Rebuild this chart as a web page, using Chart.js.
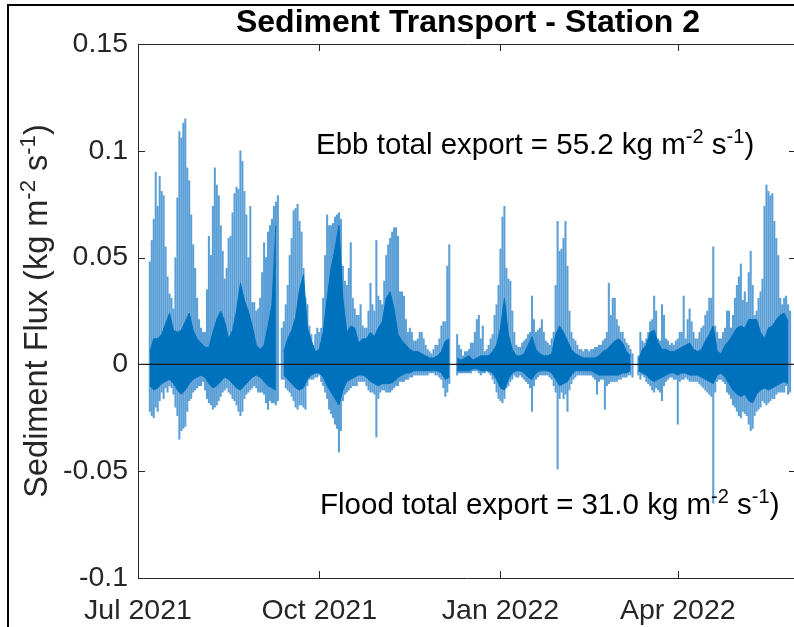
<!DOCTYPE html>
<html>
<head>
<meta charset="utf-8">
<script src="https://cdn.jsdelivr.net/npm/chart.js@4.4.1/dist/chart.umd.min.js"></script>
<style>
  html, body { margin: 0; padding: 0; background: #fff; overflow: hidden; }
</style>
</head>
<body>
<canvas id="flux" width="800" height="627"></canvas>
<script>
'use strict';

// days counted from 1 Jul 2021; fluxes in 1e-3 kg m-2 s-1
const firstDay = 6;
const lastDay = 334;

// daily ebb (positive) and flood (negative) peaks, day 6 .. 331
const ebbPeak = [
  48, 58, 68, 90, 74, 88, 81, 79, 55, 41,
  33, 31, 26, 50, 78, 109, 106, 113, 115, 92,
  86, 70, 56, 45, 31, 21, 17, 15, 15, 35,
  60, 51, 74, 92, 84, 79, 65, 53, 40, 45,
  59, 60, 71, 80, 83, 82, 100, 95, 81, 70,
  50, 74, 29, 29, 25, 26, 31, 43, 57, 50,
  62, 65, 68, 74, 76, 79, null, 17, 20, 28,
  37, 51, 59, 72, 73, 75, 67, 62, 45, 31,
  28, 18, 14, 9, 14, 17, 15, 17, 31, 51,
  70, 65, 65, 66, 69, 70, 71, 68, 46, 39,
  37, 45, 57, 31, 26, 23, 23, 28, 18, 17,
  17, 25, 38, 28, 25, 58, 32, 30, 28, 39,
  51, 56, 59, 62, 64, 64, 60, 34, 34, 32,
  21, 15, 17, 15, 11, 11, 12, 15, 15, 12,
  9, 7, 6, 5, 7, 9, 9, 12, 18, 20,
  20, 46, 56, null, null, null, 14, 9, 7, 4,
  6, 6, 7, 10, 10, 15, 21, 23, 12, 18,
  6, 7, 9, 12, 14, 23, 28, 37, 54, 69,
  74, 45, 40, 39, 25, 15, 9, 8, 8, 10,
  11, 12, 14, 15, 32, 21, 15, 16, 17, 21,
  15, 11, 10, 9, 12, 15, 37, 67, 53, 54,
  59, 67, 46, 25, 15, 12, 11, 9, 7, 7,
  6, 7, 7, 6, 7, 7, 8, 8, 9, 9,
  11, 12, 15, 38, 23, 31, 31, 21, 18, 15,
  15, 12, 10, 9, 7, 5, null, null, 4, 15,
  11, 10, 12, 15, 20, 21, 32, 25, 12, 11,
  28, 23, 12, 11, 9, 10, 9, 11, 12, 15,
  15, 32, 12, 21, 26, 20, 15, 12, 12, 15,
  17, 18, 23, 25, 31, 31, 55, 18, 15, 12,
  12, 15, 17, 25, 25, 17, 23, 31, 37, 41,
  47, 30, 34, 29, 43, 53, 37, 23, 25, 31,
  34, 40, 74, 84, 81, 79, 80, 67, 59, 51,
  31, 28, 31, 32, 28, 25
];

const floodPeak = [
  -22, -24, -25, -20, -22, -17, -13, -16, -11, -13,
  -10, -11, -14, -20, -24, -35, -31, -30, -29, -22,
  -17, -16, -13, -12, -11, -10, -10, -8, -12, -16,
  -18, -19, -21, -20, -19, -17, -15, -13, -12, -11,
  -13, -14, -16, -17, -19, -22, -24, -22, -16, -14,
  -13, -12, -11, -10, -11, -13, -13, -13, -14, -18,
  -21, -17, -18, -18, -19, -17, null, -7, -7, -11,
  -12, -13, -15, -17, -20, -21, -19, -19, -20, -21,
  -10, -7, -7, -7, -6, -6, -5, -8, -10, -13,
  -16, -21, -23, -25, -28, -30, -41, -31, -17, -14,
  -13, -12, -11, -10, -10, -10, -8, -8, -8, -8,
  -10, -12, -13, -13, -14, -34, -16, -13, -12, -12,
  -13, -13, -13, -12, -11, -10, -10, -8, -8, -8,
  -7, -7, -6, -6, -5, -5, -5, -5, -5, -5,
  -5, -5, -4, -4, -4, -5, -5, -6, -7, -11,
  -15, -13, -9, null, null, null, -5, -4, -4, -4,
  -4, -4, -4, -4, -3, -3, -3, -4, -5, -4,
  -4, -3, -4, -5, -7, -9, -13, -16, -17, -18,
  -16, -11, -10, -8, -7, -5, -6, -6, -5, -6,
  -7, -8, -9, -11, -22, -10, -7, -6, -5, -5,
  -5, -5, -5, -6, -7, -10, -13, -49, -16, -13,
  -16, -14, -22, -12, -9, -7, -6, -5, -5, -5,
  -5, -5, -5, -5, -5, -6, -7, -14, -8, -7,
  -7, -21, -10, -9, -8, -8, -8, -8, -7, -7,
  -6, -6, -6, -5, -5, -6, null, null, -5, -7,
  -5, -6, -8, -9, -10, -12, -13, -11, -12, -13,
  -17, -10, -8, -7, -6, -6, -7, -7, -28, -8,
  -7, -7, -6, -7, -8, -8, -8, -8, -8, -9,
  -10, -11, -12, -13, -14, -15, -65, -13, -8, -7,
  -7, -8, -9, -13, -14, -16, -19, -20, -22, -24,
  -25, -22, -23, -24, -28, -31, -30, -24, -22, -21,
  -20, -17, -18, -19, -18, -17, -16, -16, -14, -13,
  -13, -13, -13, -10, -14, -13
];

// dense core of the record, every 2 days from day 6 to 330
const coreStep = 2;
const ebbCore = [
  6, 12, 12, 14, 19, 24, 16, 15, 16, 20,
  24, 16, 12, 10, 8, 8, 15, 21, 25, 20,
  12, 16, 25, 38, 30, 25, 18, 9, 7, 9,
  18, 28, 65, null, 6, 12, 16, 22, 35, 42,
  17, 11, 6, 7, 15, 31, 45, 54, 65, 31,
  15, 18, 17, 10, 12, 12, 15, 13, 17, 20,
  31, 34, 26, 14, 11, 9, 7, 6, 6, 5,
  4, 3, 3, 4, 6, 11, 12, null, 3, 2,
  3, 4, 2, 3, 4, 4, 4, 6, 9, 17,
  31, 14, 7, 4, 4, 5, 9, 13, 7, 5,
  4, 4, 5, 14, 18, 15, 11, 7, 5, 4,
  3, 3, 3, 3, 4, 6, 7, 9, 11, 12,
  10, 6, 4, null, 2, 7, 9, 15, 16, 10,
  7, 7, 6, 6, 7, 8, 9, 10, 7, 6,
  7, 11, 14, 18, 6, 5, 9, 11, 14, 17,
  18, 17, 21, 21, 21, 15, 12, 17, 18, 21,
  23, 24, 20
];

const floodCore = [
  -10, -12, -11, -9, -8, -7, -9, -12, -14, -12,
  -9, -7, -6, -5, -6, -9, -11, -10, -8, -6,
  -7, -9, -11, -12, -10, -8, -6, -5, -6, -8,
  -10, -11, -12, null, -5, -7, -9, -11, -12, -11,
  -7, -5, -4, -4, -6, -10, -13, -16, -19, -12,
  -8, -7, -6, -5, -5, -6, -8, -9, -10, -9,
  -9, -9, -8, -6, -5, -4, -4, -3, -3, -3,
  -3, -3, -3, -3, -4, -7, -6, null, -3, -3,
  -3, -3, -2, -2, -3, -3, -3, -4, -7, -11,
  -12, -7, -4, -3, -3, -4, -6, -7, -4, -3,
  -3, -3, -4, -7, -10, -9, -8, -5, -3, -3,
  -3, -3, -3, -4, -5, -5, -5, -5, -5, -5,
  -4, -4, -3, null, -3, -4, -5, -7, -8, -7,
  -6, -5, -4, -4, -5, -4, -4, -5, -5, -5,
  -6, -7, -8, -9, -5, -4, -6, -9, -12, -14,
  -15, -14, -17, -18, -14, -12, -11, -12, -11, -10,
  -9, -8, -9
];

const zeroLineDays = [0, lastDay];
const zeroLineValues = [0, 0];

const tickDays = [0, 92, 184, 274];
const tickLabels = ['Jul 2021', 'Oct 2021', 'Jan 2022', 'Apr 2022'];
const yTicks = [-0.1, -0.05, 0, 0.05, 0.1, 0.15];
const yTickLabels = ['-0.1', '-0.05', '0', '0.05', '0.1', '0.15'];

const titleText = 'Sediment Transport - Station 2';
const yLabelParts = [['Sediment Flux (kg m', false], ['-2', true], [' s', false], ['-1', true], [')', false]];
const ebbParts = [['Ebb total export = 55.2 kg m', false], ['-2', true], [' s', false], ['-1', true], [')', false]];
const floodParts = [['Flood total export = 31.0 kg m', false], ['-2', true], [' s', false], ['-1', true], [')', false]];

const fontFamily = '"Liberation Sans", Arial, Helvetica, sans-serif';
const lineColor = '#0072BD';
const spikeColor = '#5b9fd7';
const axisColor = '#262626';

Chart.defaults.font.family = fontFamily;

const peakBars = ebbPeak.map((v, i) => ({
  x: firstDay + i,
  y: v === null ? null : [floodPeak[i] / 1000, v / 1000],
}));
const coreTop = ebbCore.map((v, i) => ({ x: firstDay + coreStep * i, y: v === null ? null : v / 1000 }));
const coreBottom = floodCore.map((v, i) => ({ x: firstDay + coreStep * i, y: v === null ? null : v / 1000 }));
const zeroLine = zeroLineDays.map((d, i) => ({ x: d, y: zeroLineValues[i] }));

const richText = (ctx, parts, x, y, size, align) => {
  const supSize = size * 0.68;
  const rise = size * 0.36;
  const widths = parts.map(([text, sup]) => {
    ctx.font = `${sup ? supSize : size}px ${fontFamily}`;
    return ctx.measureText(text).width;
  });
  const total = widths.reduce((s, w) => s + w, 0);
  let cx = align === 'center' ? x - total / 2 : x;
  parts.forEach(([text, sup], i) => {
    ctx.font = `${sup ? supSize : size}px ${fontFamily}`;
    ctx.fillText(text, cx, sup ? y - rise : y);
    cx += widths[i];
  });
};

const decorations = {
  id: 'decorations',
  afterDraw(chart) {
    const { ctx, chartArea: a, scales: { x, y } } = chart;
    const tick = 7;
    ctx.save();

    // axes box with inward ticks
    ctx.strokeStyle = axisColor;
    ctx.lineWidth = 1;
    ctx.beginPath();
    ctx.rect(Math.round(a.left) + 0.5, Math.round(a.top) + 0.5, Math.round(a.right - a.left), Math.round(a.bottom - a.top));
    tickDays.forEach((d) => {
      const px = Math.round(x.getPixelForValue(d)) + 0.5;
      ctx.moveTo(px, a.bottom);
      ctx.lineTo(px, a.bottom - tick);
      ctx.moveTo(px, a.top);
      ctx.lineTo(px, a.top + tick);
    });
    yTicks.forEach((v) => {
      const py = Math.round(y.getPixelForValue(v)) + 0.5;
      ctx.moveTo(a.left, py);
      ctx.lineTo(a.left + tick, py);
      ctx.moveTo(a.right, py);
      ctx.lineTo(a.right - tick, py);
    });
    ctx.stroke();

    // title
    ctx.fillStyle = '#000';
    ctx.textBaseline = 'alphabetic';
    ctx.textAlign = 'center';
    ctx.font = `bold 32px ${fontFamily}`;
    ctx.fillText(titleText, (a.left + a.right) / 2 + 1, 32);

    // annotations
    ctx.textAlign = 'left';
    richText(ctx, ebbParts, 316, 154, 29.5, 'left');
    richText(ctx, floodParts, 320, 514, 29.5, 'left');

    // y label
    ctx.fillStyle = axisColor;
    ctx.save();
    ctx.translate(47, (a.top + a.bottom) / 2);
    ctx.rotate(-Math.PI / 2);
    richText(ctx, yLabelParts, 0, 0, 32.5, 'center');
    ctx.restore();

    // figure frame
    ctx.fillStyle = '#000';
    ctx.fillRect(7, 4, 2, chart.height);
    ctx.fillRect(7, 4, chart.width, 2);
    ctx.restore();
  },
};

new Chart(document.getElementById('flux'), {
  type: 'bar',
  data: {
    datasets: [
      {
        type: 'line',
        data: zeroLine,
        borderColor: '#1a1a1a',
        borderWidth: 1.3,
        pointRadius: 0,
        order: 0,
      },
      {
        type: 'line',
        data: coreTop,
        borderColor: lineColor,
        backgroundColor: lineColor,
        borderWidth: 1,
        pointRadius: 0,
        fill: 'origin',
        order: 1,
      },
      {
        type: 'line',
        data: coreBottom,
        borderColor: lineColor,
        backgroundColor: lineColor,
        borderWidth: 1,
        pointRadius: 0,
        fill: 'origin',
        order: 1,
      },
      {
        type: 'bar',
        data: peakBars,
        backgroundColor: spikeColor,
        barThickness: 1.4,
        grouped: false,
        order: 2,
      },
    ],
  },
  options: {
    responsive: false,
    devicePixelRatio: 1,
    animation: false,
    layout: { padding: { left: 0, right: 4, top: 44, bottom: 0 } },
    plugins: {
      legend: { display: false },
      tooltip: { enabled: false },
      title: { display: false },
    },
    scales: {
      x: {
        type: 'linear',
        min: 0,
        max: lastDay,
        offset: false,
        grid: { display: false, drawTicks: false, offset: false },
        border: { display: false },
        afterBuildTicks: (scale) => {
          scale.ticks = tickDays.map((value) => ({ value }));
        },
        afterFit: (scale) => {
          scale.height = 49;
        },
        ticks: {
          autoSkip: false,
          maxRotation: 0,
          minRotation: 0,
          padding: 16,
          color: axisColor,
          font: { size: 28.5 },
          callback: (value, index) => tickLabels[index],
        },
      },
      y: {
        min: -0.1,
        max: 0.15,
        grid: { display: false, drawTicks: false },
        border: { display: false },
        afterBuildTicks: (scale) => {
          scale.ticks = yTicks.map((value) => ({ value }));
        },
        afterFit: (scale) => {
          scale.width = 138;
        },
        ticks: {
          padding: 10,
          color: axisColor,
          font: { size: 28.5 },
          callback: (value, index) => yTickLabels[index],
        },
      },
    },
  },
  plugins: [decorations],
});
</script>
</body>
</html>
